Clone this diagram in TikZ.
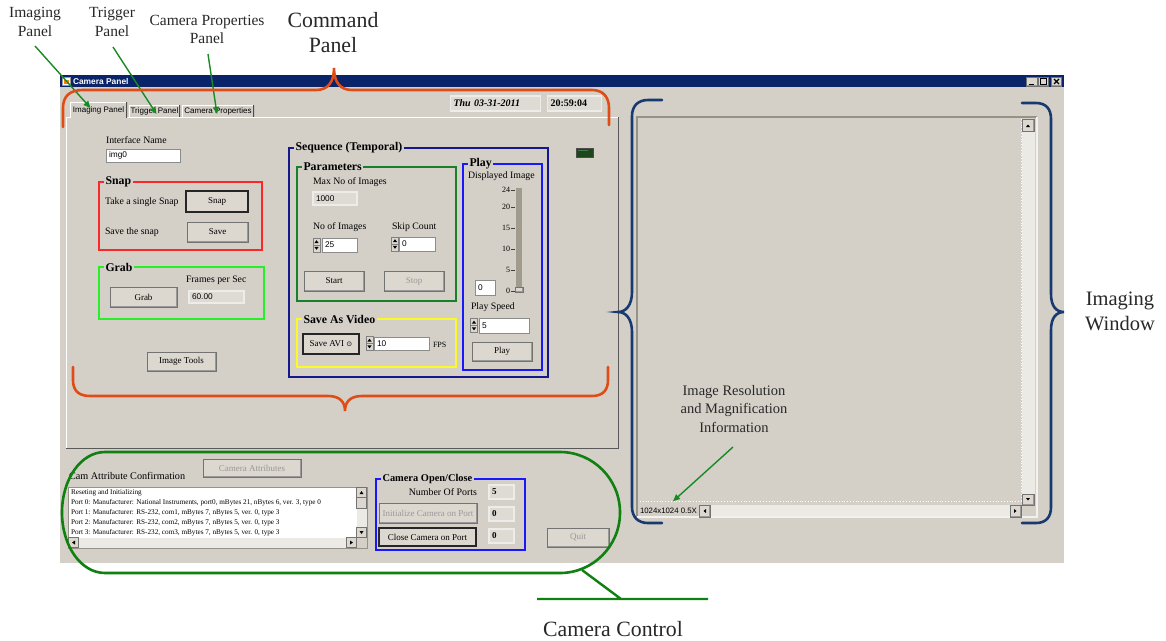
\documentclass[tikz,border=0pt]{standalone}
\usepackage{fontspec}
\setmainfont{Liberation Serif}
\newfontfamily\uisans{Liberation Sans}
\newfontfamily\uisym{DejaVu Sans}
\usetikzlibrary{arrows.meta}

\definecolor{guigray}{RGB}{212,208,200}
\definecolor{btnface}{RGB}{220,216,208}
\definecolor{titlenavy}{RGB}{10,36,106}
\definecolor{bracered}{RGB}{224,76,22}
\definecolor{bracenavy}{RGB}{24,58,112}
\definecolor{notegreen}{RGB}{24,138,36}
\definecolor{ctrlgreen}{RGB}{16,128,16}
\definecolor{snapred}{RGB}{250,40,40}
\definecolor{grablime}{RGB}{40,240,40}
\definecolor{parmgreen}{RGB}{24,128,40}
\definecolor{seqnavy}{RGB}{20,24,140}
\definecolor{playblue}{RGB}{24,24,250}
\definecolor{aviyellow}{RGB}{250,250,40}
\definecolor{notetext}{RGB}{40,40,40}
\definecolor{scrolllight}{RGB}{236,234,228}
\definecolor{trackgray}{RGB}{160,155,140}
\definecolor{fieldgray}{RGB}{222,219,213}
\definecolor{sunkedge}{RGB}{150,146,136}
\definecolor{lampdark}{RGB}{28,70,28}
\definecolor{lamplight}{RGB}{70,120,70}

\begin{document}
\begin{tikzpicture}[x=1pt,y=-1pt,
  every node/.style={inner sep=0pt, outer sep=0pt},
  note/.style={text=notetext, align=center, font=\fontsize{15.5}{19}\selectfont},
  bignote/.style={text=notetext, align=center, font=\fontsize{21.8}{25}\selectfont},
  notearrow/.style={draw=notegreen, line width=1.4pt, -{Triangle[length=7pt,width=6pt]}},
  brace/.style={line width=2.6pt, line cap=round},
  uilabel/.style={anchor=west, font=\fontsize{9.8}{11}\selectfont},
  grptitle/.style={anchor=west, fill=guigray, inner xsep=1.5pt, inner ysep=0.5pt,
    font=\bfseries\fontsize{11.8}{13}\selectfont},
  grp/.style={draw, line width=1.6pt, anchor=north west},
  raised/.style={path picture={
    \draw[white, line width=1.4pt] (path picture bounding box.south west) --
      (path picture bounding box.north west) -- (path picture bounding box.north east);
    \draw[black!40, line width=1.4pt] (path picture bounding box.north east) --
      (path picture bounding box.south east) -- (path picture bounding box.south west);}},
  sunken/.style={path picture={
    \draw[sunkedge, line width=1.4pt] (path picture bounding box.south west) --
      (path picture bounding box.north west) -- (path picture bounding box.north east);}},
  btn/.style={raised, fill=btnface, draw=black!55, line width=0.6pt,
    font=\fontsize{9}{10}\selectfont},
  btndef/.style={btn, draw=black!85, line width=1.3pt},
  btnoff/.style={btn, text=black!40},
  field/.style={sunken, fill=white, draw=black!45, line width=0.5pt, inner xsep=3pt,
    align=left, font=\uisans\fontsize{8.3}{9}\selectfont},
  ind/.style={fill=fieldgray, draw=white!60!guigray, line width=1.2pt, inner xsep=3pt,
    align=left, font=\uisans\fontsize{8.3}{9}\selectfont},
  tabbtn/.style={fill=guigray, font=\uisans\fontsize{8}{9}\selectfont, path picture={
    \draw[white, line width=1.6pt] (path picture bounding box.south west) --
      (path picture bounding box.north west) -- (path picture bounding box.north east);
    \draw[black!70, line width=1.6pt] (path picture bounding box.north east) --
      (path picture bounding box.south east);}},
  tick/.style={anchor=east, font=\fontsize{8}{9}\selectfont},
  listline/.style={anchor=west, font=\fontsize{7.2}{8}\selectfont},
  spin/.pic={
    \fill[btnface] (-3.5,-7) rectangle (3.5,7);
    \draw[black!50, line width=0.4pt] (-3.5,-7) rectangle (3.5,7) (-3.5,0) -- (3.5,0);
    \fill[black] (-2.2,-1.8) -- (2.2,-1.8) -- (0,-4.8) -- cycle;
    \fill[black] (-2.2,1.8) -- (2.2,1.8) -- (0,4.8) -- cycle;}
]
\useasboundingbox (0,0) rectangle (1166,640);
\fill[white] (0,0) rectangle (1166,640);

% ---------------- application window ----------------
\node[fill=guigray, minimum width=1004, minimum height=477, anchor=north west] (win) at (60,86) {};
\node[fill=titlenavy, minimum width=1004, minimum height=12, anchor=north west] (titlebar) at (60,75) {};
\node[fill=white, draw=black!40, line width=0.4pt, minimum size=8] (appicon) at (66.5,81) {};
\fill[orange] (64,80) rectangle (69,84);
\node[anchor=west, text=white, font=\uisans\bfseries\fontsize{8.4}{9}\selectfont] (wintitle) at (73,81) {Camera Panel};
\node[btn, minimum width=10.5, minimum height=9] (wmin) at (1032,81.5) {};
\node[btn, minimum width=10.5, minimum height=9] (wmax) at (1043.5,81.5) {};
\node[btn, minimum width=10.5, minimum height=9] (wclose) at (1056.5,81.5) {};
\draw[black, line width=1.4pt] (1029,84.3) -- (1033.5,84.3);
\draw[black, line width=0.7pt] (1040.5,78.5) rectangle (1046.5,84.5);
\draw[black, line width=1.2pt] (1040.5,78.8) -- (1046.5,78.8);
\draw[black, line width=1.2pt] (1054,79) -- (1059,84) (1054,84) -- (1059,79);

% tab page
\node[minimum width=552, minimum height=331, anchor=north west] (tabpage) at (66,117) {};
\draw[white, line width=1pt] (tabpage.south west) -- (tabpage.north west) -- (tabpage.north east);
\draw[black!65, line width=1pt] (tabpage.north east) -- (tabpage.south east) -- (tabpage.south west);
\node[tabbtn, minimum width=57, minimum height=16] (tabimg) at (98.5,110) {Imaging Panel};
\node[tabbtn, minimum width=51, minimum height=12] (tabtrig) at (154.5,111) {Trigger Panel};
\node[tabbtn, minimum width=72, minimum height=12] (tabprop) at (218,111) {Camera Properties};

% date and time indicators
\node[ind, text width=84pt, minimum height=15, font=\bfseries\itshape\fontsize{10}{11}\selectfont] (datebox) at (495.5,103.5) {Thu 03-31-2011};
\node[ind, text width=48pt, minimum height=15, font=\bfseries\fontsize{10}{11}\selectfont] (timebox) at (574.5,103.5) {20:59:04};

% interface name
\node[uilabel] (lbliface) at (106,140) {Interface Name};
\node[field, text width=68pt, minimum height=13] (ifname) at (143,155.5) {img0};

% snap group
\node[grp, draw=snapred, minimum width=163, minimum height=68] (snapgrp) at (99,182) {};
\node[grptitle] (snaptitle) at ([xshift=5pt]snapgrp.north west) {Snap};
\node[uilabel] (lblsnap) at (105,202) {Take a single Snap};
\node[btndef, minimum width=62, minimum height=21] (snapbtn) at (217,201.5) {Snap};
\node[uilabel] (lblsave) at (105,232) {Save the snap};
\node[btn, minimum width=61, minimum height=20] (savebtn) at (217.5,232) {Save};

% grab group
\node[grp, draw=grablime, minimum width=165, minimum height=52] (grabgrp) at (99,267) {};
\node[grptitle] (grabtitle) at ([xshift=5pt]grabgrp.north west) {Grab};
\node[btn, minimum width=67, minimum height=20] (grabbtn) at (143.5,297) {Grab};
\node[uilabel] (lblfps) at (186,280) {Frames per Sec};
\node[ind, text width=49pt, minimum height=12] (fpsbox) at (216.5,297) {60.00};

\node[btn, minimum width=69, minimum height=19] (toolsbtn) at (181.5,361.5) {Image Tools};

% sequence group
\node[grp, draw=seqnavy, minimum width=259, minimum height=229] (seqgrp) at (289,148) {};
\node[grptitle] (seqtitle) at ([xshift=5pt]seqgrp.north west) {Sequence (Temporal)};

\node[grp, draw=parmgreen, minimum width=159, minimum height=134] (parmgrp) at (297,167) {};
\node[grptitle] (parmtitle) at ([xshift=5pt]parmgrp.north west) {Parameters};
\node[uilabel] (lblmax) at (313,182) {Max No of Images};
\node[ind, text width=38pt, minimum height=13] (maxbox) at (335,198.5) {1000};
\node[uilabel] (lblnum) at (313,227) {No of Images};
\pic at (316.5,245) {spin};
\node[field, text width=29pt, minimum height=14] (numbox) at (339.5,245) {25};
\node[uilabel] (lblskip) at (392,227) {Skip Count};
\pic at (395,244) {spin};
\node[field, text width=30pt, minimum height=14] (skipbox) at (417,244) {0};
\node[btn, minimum width=60, minimum height=20] (startbtn) at (334,281) {Start};
\node[btnoff, minimum width=60, minimum height=20] (stopbtn) at (414,281) {Stop};

\node[grp, draw=aviyellow, minimum width=159, minimum height=48] (avigrp) at (297,319) {};
\node[grptitle] (avititle) at ([xshift=5pt]avigrp.north west) {Save As Video};
\node[btndef, minimum width=56, minimum height=20] (avibtn) at (331,344) {Save AVI {\uisym\fontsize{7}{8}\selectfont ⊙}};
\pic at (369.5,343.5) {spin};
\node[field, text width=49pt, minimum height=13] (avifps) at (401.5,343.5) {10};
\node[anchor=west, font=\fontsize{8}{9}\selectfont] (lblavifps) at (433,345) {FPS};

\node[grp, draw=playblue, minimum width=79, minimum height=206] (playgrp) at (463,164) {};
\node[grptitle] (playtitle) at ([xshift=5pt]playgrp.north west) {Play};
\node[uilabel] (lbldisp) at (468,176) {Displayed Image};
\node[fill=trackgray, minimum width=6, minimum height=102, anchor=north west] (track) at (516,188) {};
\node[btn, minimum width=8, minimum height=5] (thumb) at (519,289.5) {};
\foreach \v/\ty in {24/190,20/207,15/228,10/249,5/270,0/291}{
  \node[tick] (tick\v) at (510,\ty) {\v};
  \draw[black!75, line width=0.5pt] (511,\ty) -- (515,\ty);
}
\node[field, text width=14pt, minimum height=15] (dispbox) at (485,287.5) {0};
\node[uilabel] (lblspeed) at (471,307) {Play Speed};
\pic at (474,325.5) {spin};
\node[field, text width=44pt, minimum height=15] (speedbox) at (504,325.5) {5};
\node[btn, minimum width=60, minimum height=19] (playbtn) at (502,351.5) {Play};

% status lamp
\node[fill=lampdark, draw=black!70, line width=0.6pt, minimum width=17, minimum height=9] (lamp) at (584.5,152.5) {};
\fill[lamplight] (578,149.5) rectangle (588,151);

% ---------------- camera control area ----------------
\node[uilabel, font=\fontsize{10.2}{11}\selectfont] (lblcam) at (69,476) {Cam Attribute Confirmation};
\node[btnoff, minimum width=98, minimum height=18] (attrbtn) at (252,468) {Camera Attributes};
\node[fill=white, draw=sunkedge, line width=1pt, minimum width=299, minimum height=61, anchor=north west] (listbox) at (68,487) {};
\node[listline] (ln0) at (71,493) {Reseting and Initializing};
\node[listline] (ln1) at (71,503) {Port 0: Manufacturer: National Instruments, port0, mBytes 21, nBytes 6, ver. 3, type 0};
\node[listline] (ln2) at (71,513) {Port 1: Manufacturer: RS-232, com1, mBytes 7, nBytes 5, ver. 0, type 3};
\node[listline] (ln3) at (71,523) {Port 2: Manufacturer: RS-232, com2, mBytes 7, nBytes 5, ver. 0, type 3};
\node[listline] (ln4) at (71,533) {Port 3: Manufacturer: RS-232, com3, mBytes 7, nBytes 5, ver. 0, type 3};
\fill[scrolllight] (356.5,487.5) rectangle (366.5,537.5);
\fill[scrolllight] (68.5,537.5) rectangle (356.5,547.5);
\fill[guigray] (356.5,537.5) rectangle (366.5,547.5);
\node[btn, minimum width=10, minimum height=10, anchor=north west] (lsup) at (356.5,487.5) {};
\node[btn, minimum width=10, minimum height=11, anchor=north west] (lsthumb) at (356.5,497.5) {};
\node[btn, minimum width=10, minimum height=10, anchor=north west] (lsdown) at (356.5,527.5) {};
\node[btn, minimum width=10, minimum height=10, anchor=north west] (lsleft) at (68.5,537.5) {};
\node[btn, minimum width=10, minimum height=10, anchor=north west] (lsright) at (346.5,537.5) {};
\fill (359.5,494) -- (363.5,494) -- (361.5,491) -- cycle;
\fill (359.5,531) -- (363.5,531) -- (361.5,534) -- cycle;
\fill (75,540.5) -- (75,544.5) -- (72,542.5) -- cycle;
\fill (350,540.5) -- (350,544.5) -- (353,542.5) -- cycle;

\node[grp, draw=playblue, minimum width=149, minimum height=71] (opengrp) at (376,479) {};
\node[grptitle, font=\bfseries\fontsize{10.4}{11}\selectfont] (opentitle) at ([xshift=5pt]opengrp.north west) {Camera Open/Close};
\node[anchor=east, font=\fontsize{9.9}{11}\selectfont] (lblports) at (477,492) {Number Of Ports};
\node[ind, text width=19pt, minimum height=14, font=\bfseries\fontsize{9}{10}\selectfont] (portsbox) at (501.5,492) {5};
\node[btnoff, minimum width=98, minimum height=20] (initbtn) at (428,513) {Initialize Camera on Port};
\node[ind, text width=19pt, minimum height=14, font=\bfseries\fontsize{9}{10}\selectfont] (initbox) at (501.5,514) {0};
\node[btndef, minimum width=97, minimum height=18] (closebtn) at (427.5,537) {Close Camera on Port};
\node[ind, text width=19pt, minimum height=14, font=\bfseries\fontsize{9}{10}\selectfont] (closebox) at (501.5,536) {0};
\node[btnoff, minimum width=62, minimum height=19] (quitbtn) at (578,537.5) {Quit};

% ---------------- image display ----------------
\node[fill=guigray, minimum width=400, minimum height=400, anchor=north west] (display) at (637,117) {};
\fill[scrolllight] (1021.5,119) rectangle (1035,505);
\fill[scrolllight] (699,505) rectangle (1021.5,517);
\draw[white, line width=0.8pt, dotted] (640,501) -- (1021,501) (1021,119) -- (1021,501);
\draw[sunkedge, line width=2pt] (display.south west) -- (display.north west) -- (display.north east);
\draw[white!70!guigray, line width=1.5pt] (display.north east) -- (display.south east) -- (display.south west);
\node[btn, minimum width=12, minimum height=12, anchor=north west] (vsup) at (1022,119.5) {};
\node[btn, minimum width=12, minimum height=11, anchor=north west] (vsdown) at (1022,494) {};
\node[btn, minimum width=11, minimum height=12, anchor=north west] (hsleft) at (699,505) {};
\node[btn, minimum width=11, minimum height=12, anchor=north west] (hsright) at (1010,505) {};
\fill (1026,127) -- (1030,127) -- (1028,124.5) -- cycle;
\fill (1026,498) -- (1030,498) -- (1028,500.5) -- cycle;
\fill (706,509) -- (706,513) -- (703.5,511) -- cycle;
\fill (1014,509) -- (1014,513) -- (1016.5,511) -- cycle;
\node[anchor=west, font=\uisans\fontsize{7.8}{9}\selectfont] (resinfo) at (640,511) {1024x1024 0.5X};

% ---------------- annotations ----------------
\node[note] (noteimg) at (35,22) {Imaging\\Panel};
\node[note] (notetrig) at (112,22) {Trigger\\Panel};
\node[note, font=\fontsize{15.5}{18}\selectfont] (noteprop) at (207,29) {Camera Properties\\Panel};
\node[bignote] (notecmd) at (333,33) {Command\\Panel};
\node[note, font=\fontsize{20.5}{25}\selectfont] (notewin) at (1120,311) {Imaging\\Window};
\node[note, font=\fontsize{14.5}{18.5}\selectfont] (noteres) at (734,409) {Image Resolution\\and Magnification\\Information};
\node[bignote, anchor=base] (notectrl) at (613,636) {Camera Control};

\coordinate (imgtail) at (35,46);
\coordinate (trigtail) at (113,47);
\coordinate (proptail) at (208,54);
\coordinate (restail) at (733,447);
\draw[notearrow] (imgtail) -- ([shift={(-8pt,-6pt)}]tabimg.north);
\draw[notearrow] (trigtail) -- ([shift={(2pt,-9pt)}]tabtrig.north);
\draw[notearrow] (proptail) -- ([shift={(-1pt,-9pt)}]tabprop.north);
\draw[notearrow] (restail) -- ([shift={(33pt,7pt)}]resinfo.north west);

% command panel braces
\draw[brace, bracered] (63,127) -- (63,108) .. controls (63,96) and (70,90) .. (83,90)
  -- (316,90) .. controls (328,90) and (334,82) .. (334,68)
  .. controls (334,82) and (340,90) .. (352,90)
  -- (592,90) .. controls (603,90) and (609,97) .. (609,108) -- (609,125);
\draw[brace, bracered] (73,367) -- (73,380) .. controls (73,390) and (78,396) .. (90,396)
  -- (328,396) .. controls (340,396) and (345,402) .. (345,411)
  .. controls (345,402) and (350,396) .. (362,396)
  -- (592,396) .. controls (603,396) and (608,390) .. (608,380) -- (608,367);

% imaging window braces
\draw[brace, bracenavy] (662,100) -- (648,100) .. controls (638,100) and (632,106) .. (632,116)
  -- (632,292) .. controls (632,305) and (626,312) .. (618,312)
  .. controls (626,312) and (632,319) .. (632,332)
  -- (632,507) .. controls (632,517) and (638,523) .. (648,523) -- (662,523);
\draw[brace, bracenavy] (1022,103) -- (1036,103) .. controls (1046,103) and (1051,109) .. (1051,119)
  -- (1051,294) .. controls (1051,306) and (1056,312) .. (1064,312)
  .. controls (1056,312) and (1051,318) .. (1051,330)
  -- (1051,507) .. controls (1051,517) and (1046,523) .. (1036,523) -- (1022,523);

% camera control outline with its pointer
\draw[ctrlgreen, line width=2.6pt] (105,452) -- (560,452)
  .. controls (593,452) and (620,479) .. (620,512.5)
  .. controls (620,546) and (593,573) .. (560,573) -- (105,573)
  .. controls (81,573) and (62,546) .. (62,512.5)
  .. controls (62,479) and (81,452) .. (105,452) -- cycle;
\coordinate (ctrlknee) at (582,570);
\coordinate (ctrlfoot) at (621,599);
\coordinate (ctrlleft) at (537,599);
\coordinate (ctrlright) at (708,599);
\draw[ctrlgreen, line width=2.4pt] (ctrlknee) -- (ctrlfoot) (ctrlleft) -- (ctrlright);
\end{tikzpicture}
\end{document}
